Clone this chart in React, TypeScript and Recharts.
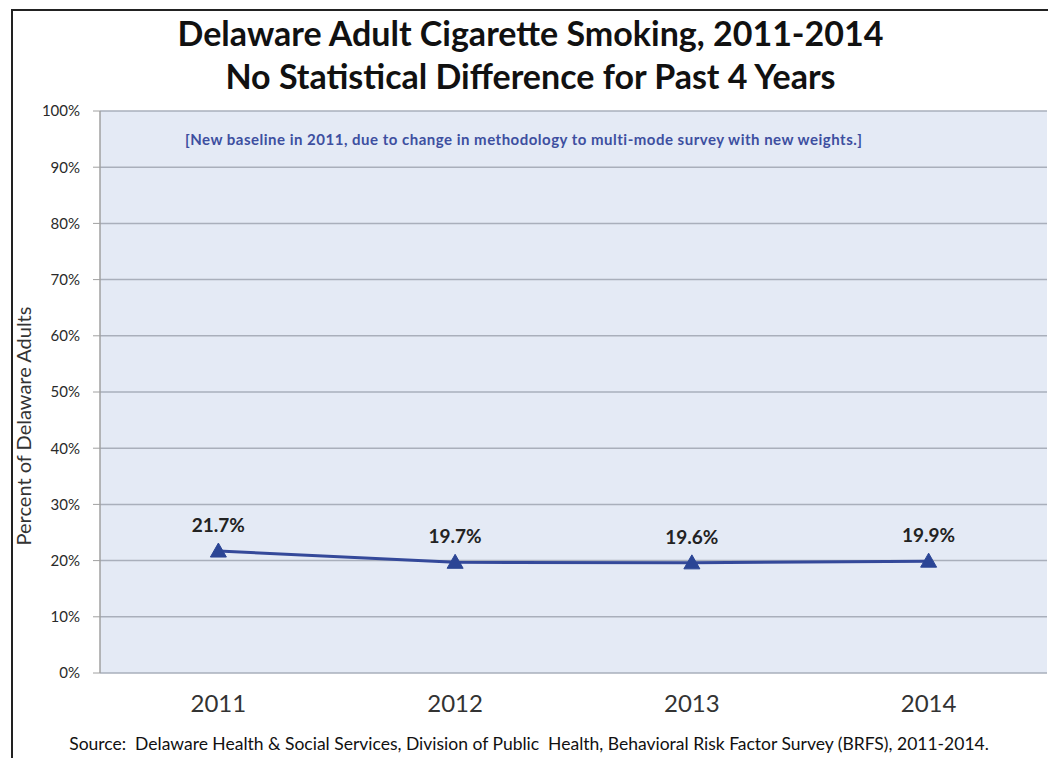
import React from 'react';
import { LineChart, Line, XAxis, YAxis, CartesianGrid, LabelList } from 'recharts';

const years = ['2011', '2012', '2013', '2014'];
const smokingPct = [21.7, 19.7, 19.6, 19.9];
const yTicks = [0, 10, 20, 30, 40, 50, 60, 70, 80, 90, 100];
const bandEdges = [-0.5, 0.5, 1.5, 2.5, 3.5];
const centers = [0, 1, 2, 3];

const data = years.map((y, i) => ({ idx: i, year: y, value: smokingPct[i] }));

const FONT = 'Lato, "Open Sans", sans-serif';
const LINE = '#34499A';
const MARK = '#2B4595';

const Triangle = (props: any) => {
  const { cx, cy } = props;
  if (cx == null || cy == null) return null;
  return <polygon points={`${cx},${cy - 8} ${cx - 8},${cy + 6} ${cx + 8},${cy + 6}`} fill={MARK} stroke={MARK} strokeWidth={1} />;
};

export default function App() {
  return (
    <div style={{ position: 'absolute', left: 0, top: 0, width: 1048, height: 758, background: '#fff', fontFamily: FONT }}>
      <div style={{ position: 'absolute', left: 11, top: 9, width: 1037, height: 749, borderLeft: '2px solid #222', borderTop: '2px solid #222' }} />
      <div style={{ position: 'absolute', left: 0, width: 1061, top: 11, textAlign: 'center', fontWeight: 700, fontSize: 34, lineHeight: '43px', color: '#111' }}>
        Delaware Adult Cigarette Smoking, 2011-2014<br />No Statistical Difference for Past 4 Years
      </div>
      <LineChart width={1048} height={758} data={data} margin={{ top: 111, right: 1, left: 0, bottom: 25 }}>
        <CartesianGrid horizontal={true} vertical={false} fill="#E4EAF5" stroke="#A9AFBB" strokeWidth={1.5} />
        <XAxis xAxisId="marks" type="number" dataKey="idx" domain={[-0.5, 3.5]} ticks={bandEdges} tick={false}
          tickSize={7} height={0} stroke="#A0A0A0" axisLine={{ stroke: '#A0A0A0', strokeWidth: 1.5 }} allowDataOverflow />
        <XAxis xAxisId="labels" type="number" dataKey="idx" domain={[-0.5, 3.5]} ticks={centers}
          tickFormatter={(v: number) => years[v]} axisLine={false} tickLine={false} height={60} tickMargin={16}
          tick={{ fontSize: 24, fill: '#333', fontFamily: FONT }} allowDataOverflow />
        <YAxis type="number" domain={[0, 100]} ticks={yTicks} width={100} tickFormatter={(v: number) => `${v}%`}
          tickSize={7} tickMargin={13} stroke="#A0A0A0" tick={{ fontSize: 15, fill: '#2a2a2a', fontFamily: FONT }}
          axisLine={{ stroke: '#A0A0A0', strokeWidth: 1.5 }} />
        <Line xAxisId="labels" type="linear" dataKey="value" stroke={LINE} strokeWidth={3} dot={<Triangle />}
          activeDot={false} isAnimationActive={false}>
          <LabelList dataKey="value" position="top" offset={19} formatter={(v: number) => `${v.toFixed(1)}%`}
            style={{ fontSize: 19, fontWeight: 700, fill: '#222', fontFamily: FONT }} />
        </Line>
      </LineChart>
      <div style={{ position: 'absolute', left: 185, top: 130, fontSize: 15, letterSpacing: 0.5, fontWeight: 700, color: '#3D4FA0', whiteSpace: 'nowrap' }}>
        [New baseline in 2011, due to change in methodology to multi-mode survey with new weights.]
      </div>
      <div style={{ position: 'absolute', left: 23, top: 426, width: 0, height: 0 }}>
        <div style={{ position: 'absolute', transform: 'translate(-50%, -50%) rotate(-90deg)', whiteSpace: 'nowrap', fontSize: 20, color: '#333' }}>
          Percent of Delaware Adults
        </div>
      </div>
      <div style={{ position: 'absolute', left: 0, width: 1058, top: 733, textAlign: 'center', fontSize: 17.5, color: '#111', whiteSpace: 'pre' }}>
        {'Source:  Delaware Health & Social Services, Division of Public  Health, Behavioral Risk Factor Survey (BRFS), 2011-2014.'}
      </div>
    </div>
  );
}
